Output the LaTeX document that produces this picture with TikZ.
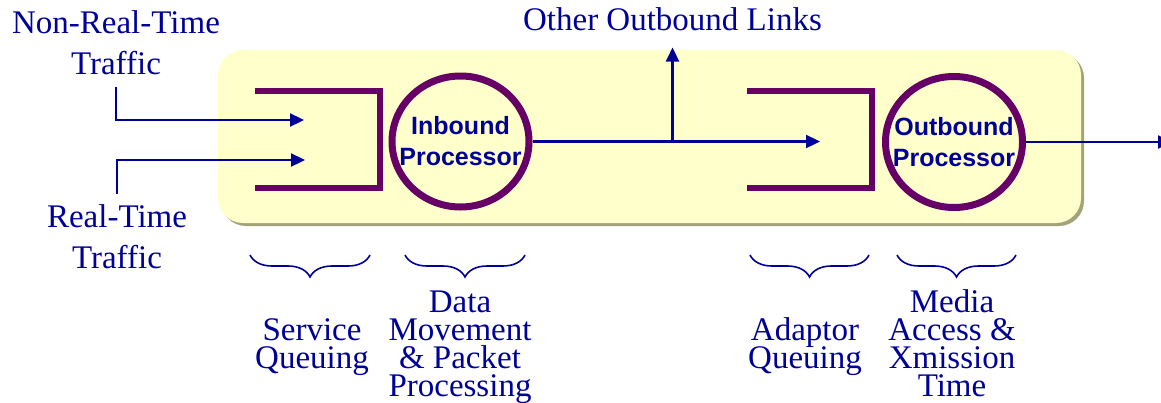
\documentclass[tikz,border=0pt]{standalone}
\usepackage{fontspec}
\setmainfont{Liberation Serif}
\newfontfamily\procfont{Liberation Sans}
\usetikzlibrary{arrows.meta,shapes.geometric,decorations.pathreplacing}

\definecolor{linkblue}{HTML}{000099}
\definecolor{queuepurple}{HTML}{660066}
\definecolor{boxyellow}{HTML}{FFFFCC}
\definecolor{boxshadow}{HTML}{A3A37A}
\lineskiplimit=-100pt

\tikzset{
	lbl/.style={inner sep=0pt, align=center, text=linkblue, font=\fontsize{33}{41}\selectfont},
	stage/.style={lbl, font=\fontsize{33}{28}\selectfont},
	proc/.style={ellipse, draw=queuepurple, line width=7pt, minimum width=137pt, minimum height=131pt, inner sep=0pt},
	proclbl/.style={inner sep=0pt, align=center, text=linkblue, font=\procfont\bfseries\fontsize{25}{31}\selectfont},
	flow/.style={draw=linkblue, line width=2.3pt, -{Triangle[length=14pt,width=13pt]}},
	queue/.style={draw=queuepurple, line width=6pt},
	brc/.style={draw=linkblue, line width=1.6pt, decorate, decoration={brace, mirror, amplitude=22pt}}
}

\begin{document}
\begin{tikzpicture}[x=1pt,y=-1pt]
	\useasboundingbox (0,0) rectangle (1161,402);
	
	%router box
	\fill[boxshadow, rounded corners=25pt] (221,53) rectangle (1084,226);
	\fill[boxyellow, rounded corners=25pt] (218,50) rectangle (1081,223);
	
	%queues
	\draw[queue] (255,91) -| (380,188) -- (255,188);
	\draw[queue] (747,91) -| (872,188) -- (747,188);
	
	%processors
	\node[proc, label={[proclbl]center:{Inbound\\Processor}}] (inproc) at (460.5,141.5) {};
	\node[proc, label={[proclbl]center:{Outbound\\Processor}}] (outproc) at (954,142) {};
	
	%traffic labels (base = last line)
	\node[lbl, anchor=base] (nrt) at (116,74) {Non-Real-Time\\Traffic};
	\node[lbl, anchor=base] (rt) at (117,268) {Real-Time\\Traffic};
	\node[lbl, anchor=base] (links) at (672.5,30) {Other Outbound Links};
	
	%stage labels
	\node[stage, anchor=base] (svcq) at (312,368) {Service\\Queuing};
	\node[stage, anchor=base] (dmpp) at (460,396) {Data\\Movement\\\& Packet\\Processing};
	\node[stage, anchor=base] (adq) at (805,368) {Adaptor\\Queuing};
	\node[stage, anchor=base] (mat) at (952,396) {Media\\Access \&\\Xmission\\Time};
	
	%braces
	\draw[brc] (250,255) -- (370,255);
	\draw[brc] (405,255) -- (525,255);
	\draw[brc] (750,255) -- (869,255);
	\draw[brc] (897,255) -- (1016,255);
	
	%arrows
	\coordinate (nrtin) at (304,120);
	\coordinate (rtin) at (305,160);
	\coordinate (split) at (672.5,141.5);
	\coordinate (adin) at (820,141.5);
	\coordinate (egress) at (1172,142);
	\draw[flow, shorten <=12pt] (nrt.south) |- (nrtin);
	\draw[flow, shorten <=10pt] (rt.north) |- (rtin);
	\draw[flow] (inproc.east) -- (adin);
	\draw[flow, shorten >=17pt] (split) -- (links.south);
	\draw[flow] (outproc.east) -- (egress);
\end{tikzpicture}
\end{document}
